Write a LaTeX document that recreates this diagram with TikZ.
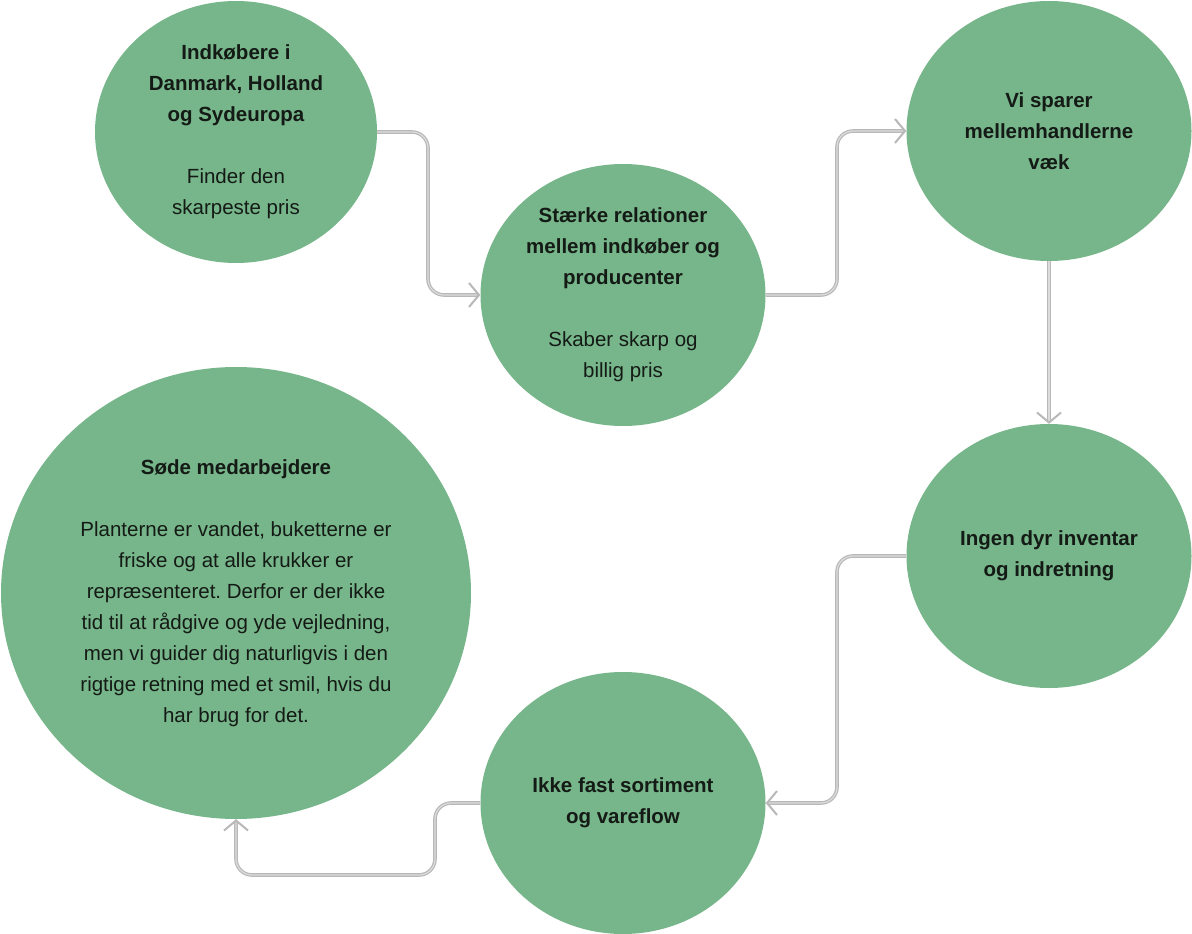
\documentclass[tikz,border=0pt]{standalone}
\usepackage{fontspec}
\setmainfont{Liberation Sans}
\usetikzlibrary{shapes.geometric,arrows.meta}
\definecolor{bubble}{HTML}{77B68A}
\definecolor{txt}{HTML}{141A15}
\definecolor{linegray}{HTML}{B8B8B8}
\definecolor{lineinner}{HTML}{DCDCDC}
\frenchspacing
\tikzset{
  bubble/.style={ellipse, fill=bubble, draw=none, inner sep=0pt, align=center,
    text=txt, font=\fontsize{20.5}{31}\selectfont},
  conn/.style={draw=linegray, double=lineinner, double distance=1.2pt, line width=1.2pt,
    rounded corners=16pt, -{Straight Barb[length=10pt,width=24pt,line width=2pt]}},
}
\begin{document}
\begin{tikzpicture}[x=1pt,y=-1pt]
\useasboundingbox (0,0) rectangle (1192,934);
\node[bubble, minimum width=282pt, minimum height=262pt] (A) at (236,132)
  {\textbf{Indkøbere i}\\\textbf{Danmark, Holland}\\\textbf{og Sydeuropa}\\[31pt]Finder den\\skarpeste pris};
\node[bubble, minimum width=285pt, minimum height=262pt] (B) at (623,295)
  {\textbf{Stærke relationer}\\\textbf{mellem indkøber og}\\\textbf{producenter}\\[31pt]Skaber skarp og\\billig pris};
\node[bubble, minimum width=285pt, minimum height=260pt] (C) at (1049,131)
  {\textbf{Vi sparer}\\\textbf{mellemhandlerne}\\\textbf{væk}};
\node[bubble, minimum width=285pt, minimum height=264pt] (D) at (1049,556)
  {\textbf{Ingen dyr inventar}\\\textbf{og indretning}};
\node[bubble, minimum width=285pt, minimum height=262pt] (E) at (623,803)
  {\textbf{Ikke fast sortiment}\\\textbf{og vareflow}};
\node[bubble, minimum width=470pt, minimum height=452pt] (F) at (236,593)
  {\textbf{Søde medarbejdere}\\[31pt]Planterne er vandet, buketterne er\\friske og at alle krukker er\\repræsenteret. Derfor er der ikke\\tid til at rådgive og yde vejledning,\\men vi guider dig naturligvis i den\\rigtige retning med et smil, hvis du\\har brug for det.};
\draw[conn] (A.east) -- (428,132) |- (B.west);
\draw[conn] (B.east) -- (837,295) |- (C.west);
\draw[conn] (C.south) -- (D.north);
\draw[conn] (D.west) -- (837,556) |- (E.east);
\draw[conn] (E.west) -- (435,803) -- (435,875) -| (F.south);
\end{tikzpicture}
\end{document}
